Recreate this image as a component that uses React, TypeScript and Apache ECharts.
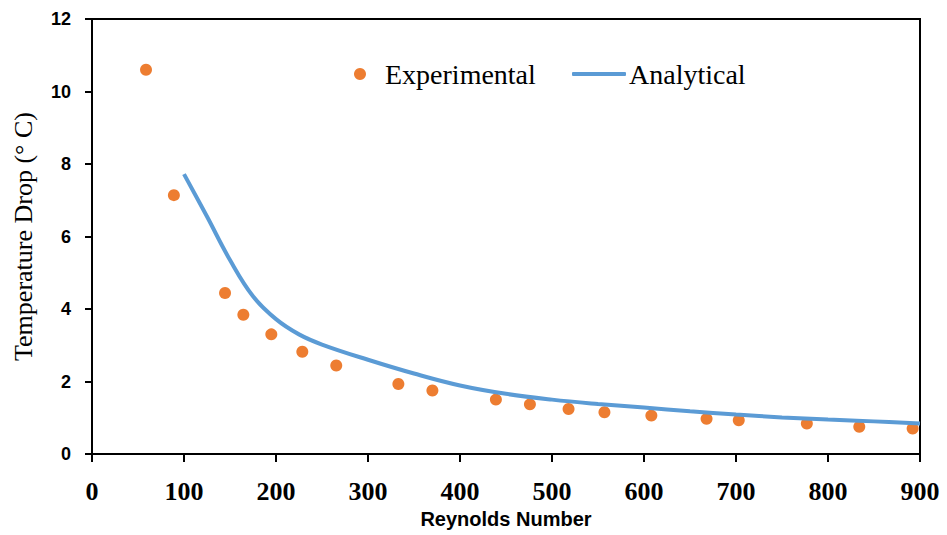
import React, { useEffect, useRef } from "react";
import * as echarts from "echarts";

const expX = [58.7, 89, 144.6, 164.5, 194.9, 228.6, 265.5, 333, 370, 439, 476, 518, 557, 608, 668, 703, 777, 834, 892];
const expY = [10.6, 7.14, 4.44, 3.84, 3.3, 2.82, 2.44, 1.93, 1.75, 1.5, 1.37, 1.24, 1.15, 1.06, 0.97, 0.93, 0.84, 0.75, 0.7];

const anaX = [100, 125, 150, 175, 200, 225, 250, 300, 350, 400, 450, 500, 550, 600, 650, 700, 750, 800, 850, 900];
const anaY = [7.72, 6.55, 5.35, 4.35, 3.72, 3.3, 3.02, 2.6, 2.22, 1.89, 1.66, 1.5, 1.38, 1.28, 1.18, 1.09, 1.01, 0.95, 0.9, 0.84];

const xTicks = { min: 0, max: 900, interval: 100 };
const yTicks = { min: 0, max: 12, interval: 2 };

export default function App() {
  const ref = useRef<HTMLDivElement>(null);
  useEffect(() => {
    if (!ref.current) return;
    const chart = echarts.init(ref.current, undefined, { renderer: "svg" });
    const serif = "'Liberation Serif', 'Times New Roman', serif";
    const sans = "'Liberation Sans', Arial, sans-serif";
    chart.setOption({
      animation: false,
      backgroundColor: "#ffffff",
      grid: {
        left: 92, right: 27, top: 19, bottom: 81,
        show: true, borderColor: "#000", borderWidth: 2,
      },
      legend: [
        {
          data: [{ name: "Experimental", icon: "circle" }],
          left: 349, top: 55, itemWidth: 12, itemHeight: 12,
          textStyle: { fontFamily: serif, fontSize: 28, color: "#000", padding: [0, 0, 0, 14] },
        },
        {
          data: [{ name: "Analytical", icon: "roundRect" }],
          left: 567, top: 55, itemWidth: 54, itemHeight: 4,
          textStyle: { fontFamily: serif, fontSize: 28, color: "#000", padding: [0, 0, 0, -2] },
        },
      ],
      xAxis: {
        type: "value",
        min: xTicks.min, max: xTicks.max, interval: xTicks.interval,
        name: "Reynolds Number",
        nameLocation: "middle",
        nameGap: 54,
        nameTextStyle: { fontFamily: sans, fontWeight: "bold", fontSize: 20, color: "#000" },
        axisLine: { lineStyle: { color: "#000", width: 2 } },
        axisTick: { show: true, length: 8, lineStyle: { color: "#000", width: 2 } },
        axisLabel: { margin: 24, fontFamily: serif, fontWeight: "bold", fontSize: 26, color: "#000" },
        splitLine: { show: false },
      },
      yAxis: {
        type: "value",
        min: yTicks.min, max: yTicks.max, interval: yTicks.interval,
        name: "Temperature Drop (° C)",
        nameLocation: "middle",
        nameGap: 56,
        nameTextStyle: { fontFamily: serif, fontSize: 26, color: "#000" },
        axisLine: { show: true, lineStyle: { color: "#000", width: 2 } },
        axisTick: { show: true, length: 7, lineStyle: { color: "#000", width: 2 } },
        axisLabel: { margin: 21, fontFamily: sans, fontWeight: "bold", fontSize: 18, color: "#000" },
        splitLine: { show: false },
      },
      series: [
        {
          name: "Experimental",
          type: "scatter",
          symbol: "circle",
          symbolSize: 12,
          itemStyle: { color: "#ED7D31", opacity: 1 },
          data: expX.map((x, i) => [x, expY[i]]),
        },
        {
          name: "Analytical",
          type: "line",
          smooth: 0.4,
          symbol: "none",
          lineStyle: { color: "#5B9BD5", width: 4 },
          itemStyle: { color: "#5B9BD5" },
          data: anaX.map((x, i) => [x, anaY[i]]),
        },
      ],
    });
    return () => chart.dispose();
  }, []);
  return <div ref={ref} style={{ width: 947, height: 535, position: "absolute", left: 0, top: 0 }} />;
}
